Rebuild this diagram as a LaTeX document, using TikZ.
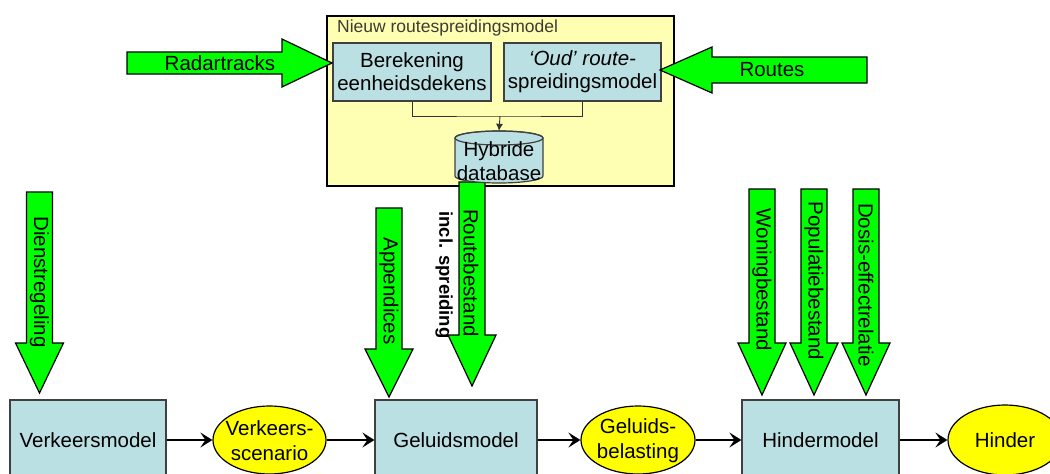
\documentclass[tikz,border=0pt]{standalone}
\usepackage{fontspec}
\setmainfont{Liberation Sans}
\usetikzlibrary{arrows.meta,shapes.geometric}
\definecolor{boxblue}{RGB}{187,224,227}
\definecolor{topy}{RGB}{255,255,179}
\definecolor{elly}{RGB}{255,255,0}
\definecolor{agreen}{RGB}{0,255,0}
\definecolor{titlegray}{RGB}{60,60,50}
\newcommand\garrowdown[4]{%
  \filldraw[garrow] ({#1-13},#2) -- ({#1+13},#2) -- ({#1+13},#3) -- ({#1+24},#3)
    -- (#1,#4) -- ({#1-24},#3) -- ({#1-13},#3) -- cycle;}
\tikzset{
  bigfont/.style={font=\fontsize{20.5}{24.5}\selectfont},
  boxfont/.style={font=\fontsize{20.5}{23}\selectfont},
  mbox/.style={draw=black!75, line width=1.2pt, fill=boxblue, inner sep=0pt, align=center},
  ellshape/.style={ellipse, draw=black, line width=1.2pt, fill=elly, inner sep=0pt},
  garrow/.style={draw=black, line width=1.2pt, fill=agreen, line join=miter},
  vlabel/.style={rotate=-90, bigfont, inner sep=0pt},
  conn/.style={line width=2.2pt, -{Stealth[length=12pt,width=15pt,inset=5pt]}},
  thinconn/.style={draw=black!80, line width=0.9pt},
}
\begin{document}
\begin{tikzpicture}[x=1pt,y=-1pt]
\useasboundingbox (0,0) rectangle (1050,474);
\clip (0,0) rectangle (1050,474);
\fill[white] (0,0) rectangle (1050,474);

% --- top model box ---
\node[draw=black, line width=1.6pt, fill=topy, minimum width=347pt, minimum height=170pt, inner sep=0pt] (nrm) at (500.5,101) {};
\node[anchor=west, inner sep=0pt, text=titlegray, font=\fontsize{17.5}{20}\selectfont] (title) at (337,28) {Nieuw routespreidingsmodel};
\node[mbox, boxfont, minimum width=158pt, minimum height=58pt] (ber) at (412,72) {Berekening\\eenheidsdekens};
\node[mbox, boxfont, minimum width=157pt, minimum height=58pt] (oud) at (582.5,72) {\textit{‘Oud’ route-}\\spreidingsmodel};
\coordinate (j) at (500,116);
\draw[thinconn] (ber.south) |- (j) -| (oud.south);

% --- side input arrows ---
\filldraw[garrow] (127,52) -- (282,52) -- (282,39) -- (332,63) -- (282,87) -- (282,74) -- (127,74) -- cycle;
\node[bigfont, inner sep=0pt] (radar) at (220,63) {Radartracks};
\filldraw[garrow] (867,57) -- (712,57) -- (712,47) -- (660,70) -- (712,93) -- (712,83) -- (867,83) -- cycle;
\node[bigfont, inner sep=0pt] (routes) at (772,70) {Routes};

% --- route arrow from database ---
\garrowdown{472}{182}{335}{386}

% --- database ---
\node[minimum width=88pt, minimum height=52pt, inner sep=0pt] (db) at (499,157) {};
\filldraw[draw=black!75, line width=1.2pt, fill=boxblue] (455,138) -- (455,176)
  arc[start angle=180, end angle=360, x radius=44pt, y radius=7pt] -- (543,138)
  arc[start angle=0, end angle=180, x radius=44pt, y radius=7pt] -- cycle;
\draw[draw=black!75, line width=1.2pt] (499,138) ellipse [x radius=44pt, y radius=7pt];
\node[bigfont, align=center, inner sep=0pt] (dbt) at (499,161) {Hybride\\database};
\draw[thinconn, -{Latex[length=7pt,width=7pt]}] (j) -- (db.north);

% --- bottom row ---
\node[mbox, bigfont, minimum width=156pt, minimum height=80pt] (verk) at (88,440) {Verkeersmodel};
\node[ellshape, minimum width=113pt, minimum height=68pt] (e1) at (269.5,440) {};
\node[bigfont, align=center, inner sep=0pt] (e1t) at (269.5,440.5) {Verkeers-\\scenario};
\node[mbox, bigfont, minimum width=162pt, minimum height=80pt] (gel) at (456,440) {Geluidsmodel};
\node[ellshape, minimum width=114pt, minimum height=68pt] (e2) at (638,440) {};
\node[bigfont, align=center, inner sep=0pt] (e2t) at (638,440.5) {Geluids-\\belasting};
\node[mbox, bigfont, minimum width=157pt, minimum height=80pt] (hin) at (820.5,440) {Hindermodel};
\node[ellshape, minimum width=114pt, minimum height=70pt] (e3) at (1005,440) {};
\node[bigfont, inner sep=0pt] (e3t) at (1005,440) {Hinder};

\draw[conn] (verk.east) -- (e1.west);
\draw[conn] (e1.east) -- (gel.west);
\draw[conn] (gel.east) -- (e2.west);
\draw[conn] (e2.east) -- (hin.west);
\draw[conn] (hin.east) -- (e3.west);

% --- vertical input arrows ---
\garrowdown{39.5}{192}{343}{393}
\garrowdown{389}{208}{349}{397}
\garrowdown{762}{189}{343}{395}
\garrowdown{814}{189}{343}{395}
\garrowdown{866}{189}{343}{395}

\node[vlabel] (l1) at (39.5,282) {Dienstregeling};
\node[vlabel] (l2) at (389,291) {Appendices};
\node[vlabel] (l3) at (471,273) {Routebestand};
\node[rotate=-90, inner sep=0pt, font=\fontsize{18.5}{20}\selectfont\bfseries] (l3b) at (444,275) {incl. spreiding};
\node[vlabel] (l4) at (762,280) {Woningbestand};
\node[vlabel] (l5) at (814,281) {Populatiebestand};
\node[vlabel] (l6) at (866,285) {Dosis-effectrelatie};
\end{tikzpicture}
\end{document}
